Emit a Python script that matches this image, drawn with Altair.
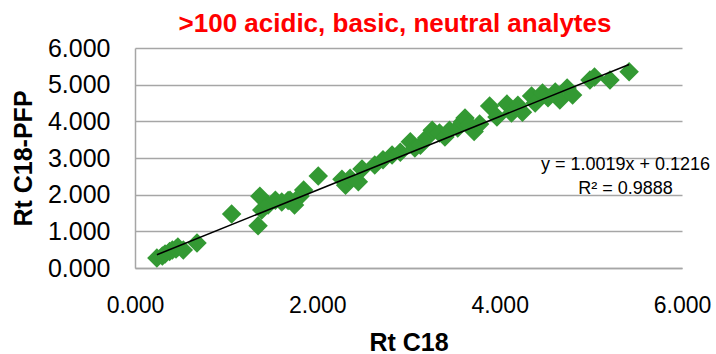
import altair as alt
import pandas as pd

# Retention times
rt_c18 = [0.24, 0.30, 0.33, 0.38, 0.41, 0.45, 0.47, 0.53, 0.68, 1.06, 1.35, 1.37, 1.39,
          1.46, 1.54, 1.61, 1.68, 1.70, 1.75, 1.81, 1.85, 2.01, 2.27, 2.31, 2.36, 2.45,
          2.49, 2.63, 2.72, 2.82, 2.91, 3.02, 3.07, 3.13, 3.20, 3.26, 3.34, 3.40, 3.45,
          3.54, 3.59, 3.62, 3.67, 3.72, 3.78, 3.89, 3.97, 4.08, 4.13, 4.20, 4.25, 4.35,
          4.39, 4.47, 4.53, 4.61, 4.66, 4.74, 4.80, 4.99, 5.04, 5.21, 5.42]
rt_pfp = [0.27, 0.33, 0.38, 0.45, 0.49, 0.52, 0.57, 0.49, 0.68, 1.47, 1.15, 1.96, 1.58,
          1.72, 1.85, 1.80, 1.84, 1.85, 1.72, 1.96, 2.13, 2.51, 2.42, 2.26, 2.45, 2.35,
          2.70, 2.81, 2.95, 3.08, 3.16, 3.44, 3.27, 3.35, 3.55, 3.76, 3.68, 3.57, 3.76,
          3.82, 3.98, 4.09, 3.90, 3.72, 3.93, 4.42, 4.12, 4.47, 4.23, 4.44, 4.25, 4.69,
          4.50, 4.77, 4.64, 4.80, 4.58, 4.91, 4.72, 5.13, 5.21, 5.13, 5.35]

x_ticks = [0, 2, 4, 6]
y_ticks = [0, 1, 2, 3, 4, 5, 6]

slope = 1.0019
intercept = 0.1216
eq_labels = ["y = 1.0019x + 0.1216", "R² = 0.9888"]
eq_x = [5.38, 5.38]
eq_y = [2.66, 2.03]
title_text = ">100 acidic, basic, neutral analytes"

pts = pd.DataFrame({"x": rt_c18, "y": rt_pfp})
xmin, xmax = min(rt_c18), max(rt_c18)
trend = pd.DataFrame({"x": [xmin, xmax],
                      "y": [slope * xmin + intercept, slope * xmax + intercept]})
eq = pd.DataFrame({"label": eq_labels, "x": eq_x, "y": eq_y})
ttl = pd.DataFrame({"label": [title_text]})

xscale = alt.Scale(domain=[0, 6], nice=False)
yscale = alt.Scale(domain=[0, 6], nice=False)

xaxis = alt.Axis(values=x_ticks, format=".3f", grid=False, ticks=False,
                 labelFlush=False, labelOverlap=False,
                 labelFontSize=23, labelPadding=26, labelColor="#000000",
                 domainColor="#a6a6a6", domainWidth=1.5,
                 title="Rt C18", titleFontSize=25, titleFontWeight="bold",
                 titleColor="#000000", titleY=82, titleBaseline="alphabetic")
yaxis = alt.Axis(values=y_ticks, format=".3f", grid=True, tickCount=7,
                 gridColor="#a6a6a6", gridWidth=1.5, ticks=False,
                 labelFlush=False, labelOverlap=False,
                 labelFontSize=25, labelPadding=25, labelColor="#000000",
                 domainColor="#a6a6a6", domainWidth=1.5,
                 title="Rt C18-PFP", titleFontSize=25, titleFontWeight="bold",
                 titleColor="#000000", titleX=-112, titleY=110,
                 titleBaseline="middle", titleAlign="center")

X = alt.X("x:Q", scale=xscale, axis=xaxis)
Y = alt.Y("y:Q", scale=yscale, axis=yaxis)

points = alt.Chart(pts).mark_point(shape="diamond", filled=True, size=380,
                                   color="#339933", opacity=1).encode(x=X, y=Y)

line = alt.Chart(trend).mark_line(color="#000000", strokeWidth=1.5).encode(x=X, y=Y)

text = alt.Chart(eq).mark_text(fontSize=18, color="#000000", align="center",
                               baseline="alphabetic", clip=False).encode(
    x=X, y=Y, text="label:N",
)

title = alt.Chart(ttl).mark_text(fontSize=26, fontWeight="bold", color="#ff0000",
                                 align="center", baseline="alphabetic").encode(
    x=alt.value(260), y=alt.value(-16), text="label:N",
)

chart = alt.layer(points, line, text, title).properties(
    width=547, height=220,
    autosize=alt.AutoSizeParams(type="none"),
    padding={"left": 135, "top": 48, "right": 34, "bottom": 86},
).configure(font="Liberation Sans").configure_view(stroke=None)

chart.save("out.html", embed_options={"renderer": "svg", "actions": False})
